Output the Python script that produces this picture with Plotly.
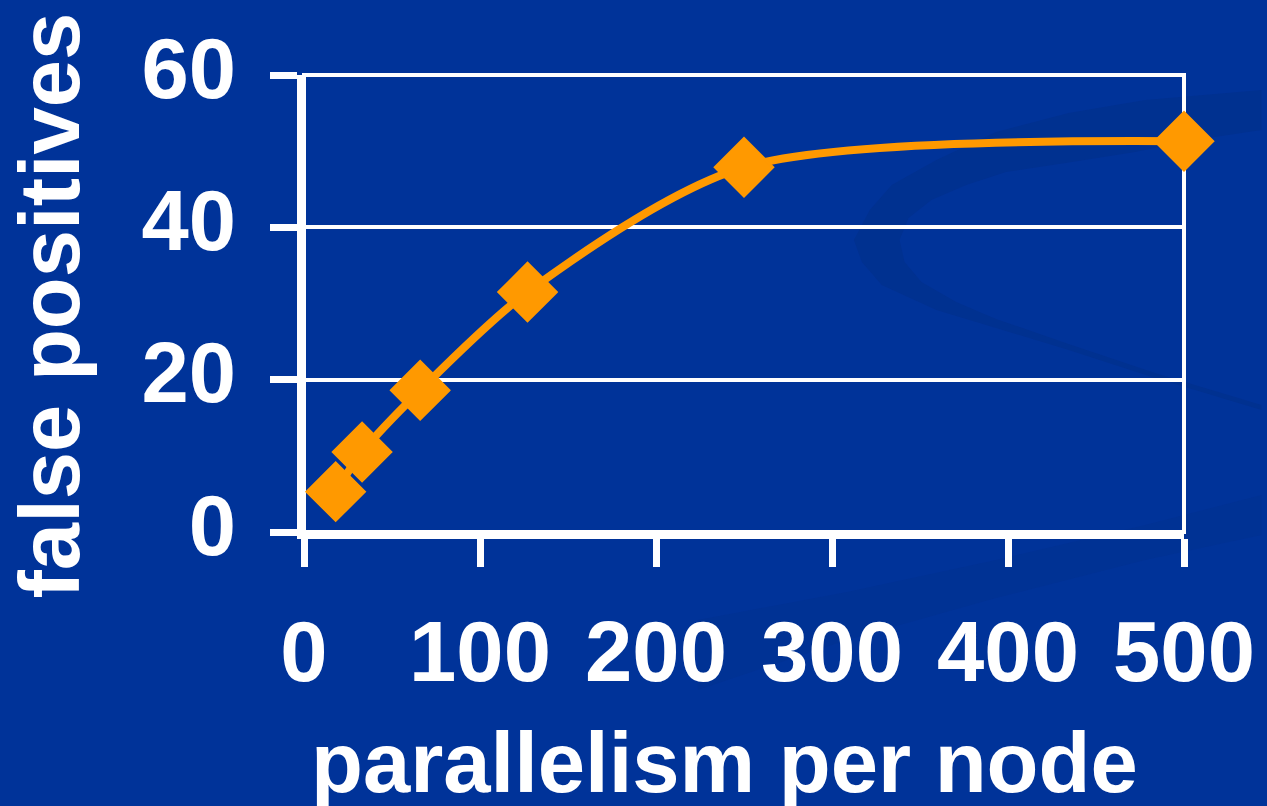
import plotly.graph_objects as go

# ---- data ----
parallelism = [18, 33, 66, 127, 250, 500]
false_positives = [5.3, 10.5, 18.6, 31.5, 47.9, 51.3]
x_ticks = [0, 100, 200, 300, 400, 500]
y_ticks = [0, 20, 40, 60]
x_title = "parallelism per node"
y_title = "false positives"

# ---- layout constants (pixels) ----
W, H = 1267, 806
L, R, T, B = 304, 1189, 75, 532
BG = "#003399"
SWOOSH = "#003190"
BAND = "#003294"
ORANGE = "#FF9900"
FONT = "Liberation Sans"


def px(x):
    return (x - L) / (R - L)


def py(y):
    return (B - y) / (B - T)


def path(points, close=True):
    s = "M " + " L ".join(f"{px(a):.4f},{py(b):.4f}" for a, b in points)
    return s + (" Z" if close else "")


fig = go.Figure()
fig.add_trace(go.Scatter(
    x=parallelism, y=false_positives, mode="lines+markers",
    line=dict(color=ORANGE, width=8, shape="spline", smoothing=0.8),
    marker=dict(symbol="diamond", size=44, color=ORANGE,
                line=dict(color=ORANGE, width=3)),
    cliponaxis=False, showlegend=False,
))

shapes = []
# background swoosh (decorative)
swoosh = [
    (1267, 90), (1150, 100), (1073, 113), (1000, 132), (940, 160), (895, 185),
    (873, 210), (857, 240), (865, 262), (885, 285), (940, 310), (1000, 328),
    (1073, 350), (1160, 378), (1267, 410),
    (1267, 405), (1160, 373), (1073, 344), (1000, 319), (960, 302), (925, 282),
    (908, 262), (903, 240), (912, 218), (935, 200), (970, 185), (1010, 172),
    (1070, 163), (1140, 152), (1200, 140), (1267, 130),
]
shapes.append(dict(type="path", xref="paper", yref="paper", path=path(swoosh),
                   fillcolor=SWOOSH, line=dict(width=0), layer="below"))
band = [
    (700, 620), (850, 592), (1000, 560), (1150, 525), (1267, 495),
    (1267, 535), (1150, 560), (1000, 598), (850, 640), (700, 690),
]
shapes.append(dict(type="path", xref="paper", yref="paper", path=path(band),
                   fillcolor=BAND, line=dict(width=0), layer="below"))
# plot-area frame
shapes.append(dict(type="rect", xref="paper", yref="paper", x0=0, x1=1, y0=0, y1=1,
                   line=dict(color="white", width=4), layer="between"))
fig.update_layout(shapes=shapes)

fig.update_layout(
    width=W, height=H,
    margin=dict(l=L, r=W - R, t=T, b=H - B, pad=0),
    paper_bgcolor=BG, plot_bgcolor="rgba(0,0,0,0)",
    font=dict(family=FONT, color="white", size=85, weight="bold"),
    xaxis=dict(
        range=[0, 500], tickvals=x_ticks, ticktext=[str(v) for v in x_ticks],
        ticks="outside", ticklen=28, tickwidth=7, tickcolor="white",
        showline=True, linewidth=7, linecolor="white",
        showgrid=False, zeroline=False, ticklabelstandoff=12,
        tickfont=dict(family=FONT, size=85, color="white", weight="bold"),
    ),
    yaxis=dict(
        range=[0, 60], tickvals=y_ticks, ticktext=[str(v) for v in y_ticks],
        ticks="outside", ticklen=27, tickwidth=7, tickcolor="white",
        showline=True, linewidth=7, linecolor="white",
        showgrid=True, gridcolor="white", gridwidth=4, zeroline=False,
        ticklabelstandoff=17, ticklabelshift=-7,
        tickfont=dict(family=FONT, size=85, color="white", weight="bold"),
    ),
    annotations=[
        dict(text=x_title, xref="paper", yref="paper", x=px(727), y=py(762),
             xanchor="center", yanchor="middle", showarrow=False,
             font=dict(family=FONT, size=85, color="white", weight="bold")),
        dict(text=y_title, xref="paper", yref="paper", x=px(48), y=py(305),
             xanchor="center", yanchor="middle", textangle=-90, showarrow=False,
             font=dict(family=FONT, size=85, color="white", weight="bold")),
    ],
)

fig.write_html("out.html")
